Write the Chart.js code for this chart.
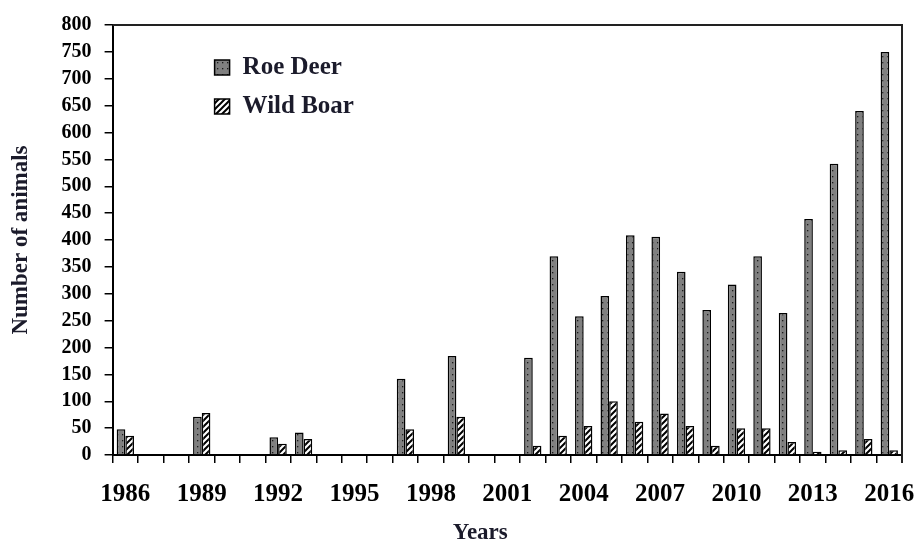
<!DOCTYPE html>
<html>
<head>
<meta charset="utf-8">
<script src="https://cdn.jsdelivr.net/npm/chart.js@4.4.1/dist/chart.umd.min.js"></script>
<style>
  body { margin: 0; background: #ffffff; }
  canvas { display: block; }
</style>
</head>
<body>
<canvas id="animalsChart" width="917" height="545"></canvas>
<script>
var years = ['1986', '1987', '1988', '1989', '1990', '1991', '1992', '1993', '1994', '1995', '1996',
    '1997', '1998', '1999', '2000', '2001', '2002', '2003', '2004', '2005', '2006',
    '2007', '2008', '2009', '2010', '2011', '2012', '2013', '2014', '2015', '2016'];

var roeDeer = [48, null, null, 71, null, null, 33, 42, null, null, null,
    142, null, 184, null, null, 181, 370, 258, 296, 409,
    406, 341, 270, 317, 370, 264, 439, 542, 640, 750];

var wildBoar = [36, null, null, 78, null, null, 21, 30, null, null, null,
    48, null, 71, null, null, 17, 36, 54, 100, 62,
    77, 54, 17, 50, 50, 24, 6, 9, 30, 9];

var shownYears = ['1986', '1989', '1992', '1995', '1998', '2001', '2004', '2007', '2010', '2013', '2016'];

var serif = "'Liberation Serif', 'Times New Roman', serif";
var textDark = '#1b1b2b';

// fill patterns: grey with small dots, white with diagonal stripes
function dotPattern() {
    var c = document.createElement('canvas');
    c.width = 5; c.height = 6;
    var g = c.getContext('2d');
    g.fillStyle = '#808080';
    g.fillRect(0, 0, 5, 6);
    g.fillStyle = '#1a1a1a';
    g.fillRect(2, 2, 1.3, 1.3);
    return g.createPattern(c, 'repeat');
}

function hatchPattern() {
    var c = document.createElement('canvas');
    c.width = 6; c.height = 6;
    var g = c.getContext('2d');
    g.fillStyle = '#ffffff';
    g.fillRect(0, 0, 6, 6);
    g.strokeStyle = '#000000';
    g.lineWidth = 2;
    g.beginPath();
    g.moveTo(-1, 7); g.lineTo(7, -1);
    g.moveTo(-4, 4); g.lineTo(4, -4);
    g.moveTo(2, 10); g.lineTo(10, 2);
    g.stroke();
    return g.createPattern(c, 'repeat');
}

var ctx = document.getElementById('animalsChart').getContext('2d');
var roeFill = dotPattern();
var boarFill = hatchPattern();

var extras = {
    id: 'extras',
    afterDraw: function (chart) {
        var a = chart.chartArea;
        var c = chart.ctx;
        c.save();
        // frame on top and right
        c.strokeStyle = '#222222';
        c.lineWidth = 2;
        c.beginPath();
        c.moveTo(a.left, a.top);
        c.lineTo(a.right, a.top);
        c.lineTo(a.right, a.bottom + 8);
        c.stroke();

        // legend inside the plot
        var items = [
            { label: chart.data.datasets[0].label, fill: roeFill },
            { label: chart.data.datasets[1].label, fill: boarFill }
        ];
        c.font = 'bold 25px ' + serif;
        c.textBaseline = 'middle';
        c.textAlign = 'left';
        items.forEach(function (it, i) {
            var bx = a.left + 102, by = a.top + 35 + i * 39;
            c.fillStyle = it.fill;
            c.fillRect(bx, by, 15, 15);
            c.lineWidth = 1.5;
            c.strokeStyle = '#000000';
            c.strokeRect(bx, by, 15, 15);
            c.fillStyle = textDark;
            c.fillText(it.label, bx + 28, by + 8);
        });

        // x axis title, sits a bit left of centre
        c.font = 'bold 23px ' + serif;
        c.textAlign = 'center';
        c.fillText('Years', (a.left + a.right) / 2 - 27, 533);
        c.restore();
    }
};

new Chart(ctx, {
    type: 'bar',
    data: {
        labels: years,
        datasets: [
            {
                label: 'Roe Deer',
                data: roeDeer,
                backgroundColor: roeFill,
                borderColor: '#000000',
                borderWidth: 1.5,
                borderSkipped: 'bottom'
            },
            {
                label: 'Wild Boar',
                data: wildBoar,
                backgroundColor: boarFill,
                borderColor: '#000000',
                borderWidth: 1.5,
                borderSkipped: 'bottom'
            }
        ]
    },
    options: {
        responsive: false,
        animation: false,
        barPercentage: 1,
        categoryPercentage: 0.68,
        layout: { padding: { top: 9, right: 15, bottom: 18, left: 7 } },
        plugins: {
            legend: { display: false },
            tooltip: { enabled: false }
        },
        scales: {
            x: {
                grid: {
                    offset: true,
                    drawOnChartArea: false,
                    tickLength: 8,
                    color: '#000000',
                    lineWidth: 1.5
                },
                border: { color: '#000000', width: 2 },
                ticks: {
                    autoSkip: false,
                    maxRotation: 0,
                    padding: 0,
                    color: '#000000',
                    font: { family: serif, size: 25, weight: 'bold', lineHeight: 2.56 },
                    callback: function (value) {
                        var y = this.getLabelForValue(value);
                        return shownYears.indexOf(y) >= 0 ? y : '';
                    }
                }
            },
            y: {
                min: 0,
                max: 800,
                grid: {
                    drawOnChartArea: false,
                    tickLength: 8,
                    color: '#000000',
                    lineWidth: 1.5
                },
                border: { color: '#000000', width: 2 },
                ticks: {
                    stepSize: 50,
                    autoSkip: false,
                    padding: 13,
                    color: '#000000',
                    font: { family: serif, size: 20, weight: 'bold' }
                },
                title: {
                    display: true,
                    text: 'Number of animals',
                    color: textDark,
                    padding: { top: 0, bottom: 14 },
                    font: { family: serif, size: 23, weight: 'bold' }
                }
            }
        }
    },
    plugins: [extras]
});
</script>
</body>
</html>
